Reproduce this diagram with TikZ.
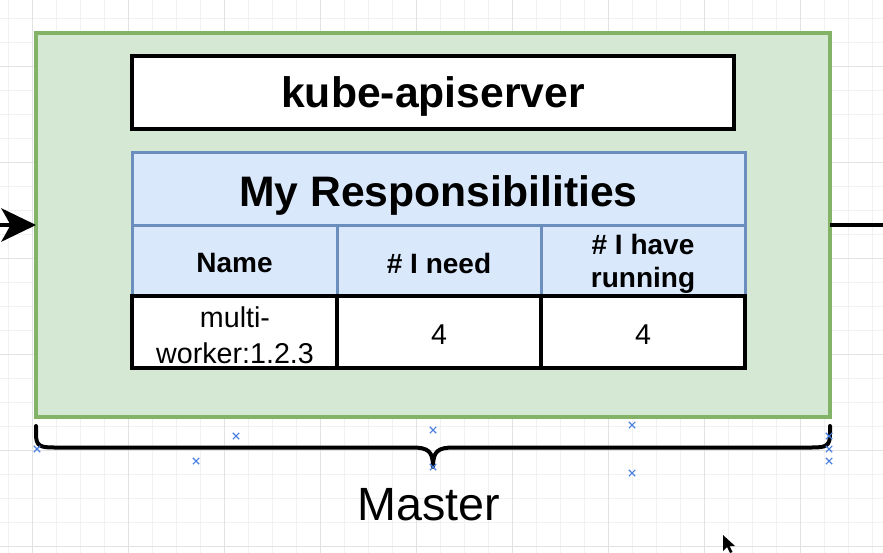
\documentclass[tikz,border=0pt]{standalone}
\usepackage{fontspec}
\setmainfont{Liberation Sans}
\usetikzlibrary{arrows.meta,shapes.misc}
\definecolor{gfill}{HTML}{D5E8D4}
\definecolor{gdraw}{HTML}{82B366}
\definecolor{bfill}{HTML}{DAE8FC}
\definecolor{bdraw}{HTML}{6C8EBF}
\definecolor{gridminor}{HTML}{F1F1F1}
\definecolor{gridmajor}{HTML}{E2E2E2}
\definecolor{xblue}{HTML}{4A7FE0}
\begin{document}
\begin{tikzpicture}[x=0.75pt,y=-0.75pt,
  box/.style={rectangle, inner sep=0pt, outer sep=0pt, anchor=north west},
  greenbox/.style={box, fill=gfill, draw=gdraw, line width=3pt},
  whitebox/.style={box, fill=white, draw=black, line width=3pt},
  bluecell/.style={box, fill=bfill, draw=bdraw, line width=2.25pt},
  blackcell/.style={box, fill=white, draw=black, line width=3pt},
  bigbold/.style={font=\fontsize{32}{38}\selectfont\bfseries},
  headtxt/.style={font=\fontsize{21}{24.5}\selectfont\bfseries, align=center},
  celltxt/.style={font=\fontsize{21.5}{27}\selectfont, align=center},
  xmark/.style={cross out, draw=xblue, line width=0.8pt, minimum size=4pt, inner sep=0pt},
  conn/.style={line width=3pt}
]
\useasboundingbox (0,0) rectangle (883,553);
\fill[white] (0,0) rectangle (883,553);
% grid
\begin{scope}
\clip (0,0) rectangle (883,553);
\foreach \x in {8,32,...,880} \draw[gridminor, line width=0.75pt] (\x,0) -- (\x,553);
\foreach \y in {18,42,...,552} \draw[gridminor, line width=0.75pt] (0,\y) -- (883,\y);
\foreach \x in {32,128,...,880} \draw[gridmajor, line width=0.75pt] (\x,0) -- (\x,553);
\foreach \y in {66,162,...,552} \draw[gridmajor, line width=0.75pt] (0,\y) -- (883,\y);
\end{scope}

% master box
\node[greenbox, minimum width={794*0.75pt}, minimum height={384*0.75pt}] (master) at (36,33) {};
% kube-apiserver
\node[whitebox, minimum width={602*0.75pt}, minimum height={73*0.75pt}] (api) at (132,56) {};
\node[bigbold] (apitxt) at (433,96) {kube-apiserver};

% table
\node[bluecell, minimum width={613*0.75pt}, minimum height={73*0.75pt}] (title) at (132,152) {};
\node[bigbold] (titletxt) at (438.5,195) {My Responsibilities};
\node[bluecell, minimum width={205*0.75pt}, minimum height={71*0.75pt}] (hname) at (132,225) {};
\node[bluecell, minimum width={204*0.75pt}, minimum height={71*0.75pt}] (hneed) at (337,225) {};
\node[bluecell, minimum width={204*0.75pt}, minimum height={71*0.75pt}] (hhave) at (541,225) {};
\node[headtxt] (hnametxt) at (234.5,263) {Name};
\node[headtxt] (hneedtxt) at (439,263) {\# I need};
\node[headtxt] (hhavetxt) at (643,264) {\# I have\\running};

\node[blackcell, minimum width={205*0.75pt}, minimum height={72*0.75pt}] (dname) at (132,296) {};
\node[blackcell, minimum width={204*0.75pt}, minimum height={72*0.75pt}] (dneed) at (337,296) {};
\node[blackcell, minimum width={204*0.75pt}, minimum height={72*0.75pt}] (dhave) at (541,296) {};
\node[celltxt] (dnametxt) at (235,335) {multi-\\worker:1.2.3};
\node[celltxt] (dneedtxt) at (439,335) {4};
\node[celltxt] (dhavetxt) at (643,335) {4};

% connectors
\coordinate (in) at (0,225);
\coordinate (out) at (883,225);
\draw[conn, -{Stealth[length=26pt, width=25pt, inset=7pt]}] (in) -- (master.west);
\draw[line width=3.6pt] (master.east) -- (out);

% brace
\draw[line width=3pt, line join=round, line cap=round]
  (36,426) -- (36,434) .. controls (36,446) and (40,447.5) .. (54,447.5)
  -- (412,447.5) .. controls (428,447.5) and (433,451) .. (433,467)
  .. controls (433,451) and (438,447.5) .. (454,447.5)
  -- (812,447.5) .. controls (826,447.5) and (830,446) .. (830,434) -- (830,426);
\node[font=\fontsize{35}{42}\selectfont] (mastertxt) at (429,505) {Master};

% selection marks
\node[xmark] (m1) at (37,449) {};
\node[xmark] (m2) at (236,436) {};
\node[xmark] (m3) at (196,461) {};
\node[xmark] (m4) at (433,430) {};
\node[xmark] (m5) at (433,467) {};
\node[xmark] (m6) at (632,425) {};
\node[xmark] (m7) at (632,473) {};
\node[xmark] (m8) at (829,436) {};
\node[xmark] (m9) at (829,449) {};
\node[xmark] (m10) at (829,461) {};

% cursor
\fill[black] (723,535) -- (723,551) -- (727,547) -- (730,553) -- (732.5,552) -- (729.5,546) -- (735,546) -- cycle;
\end{tikzpicture}
\end{document}
